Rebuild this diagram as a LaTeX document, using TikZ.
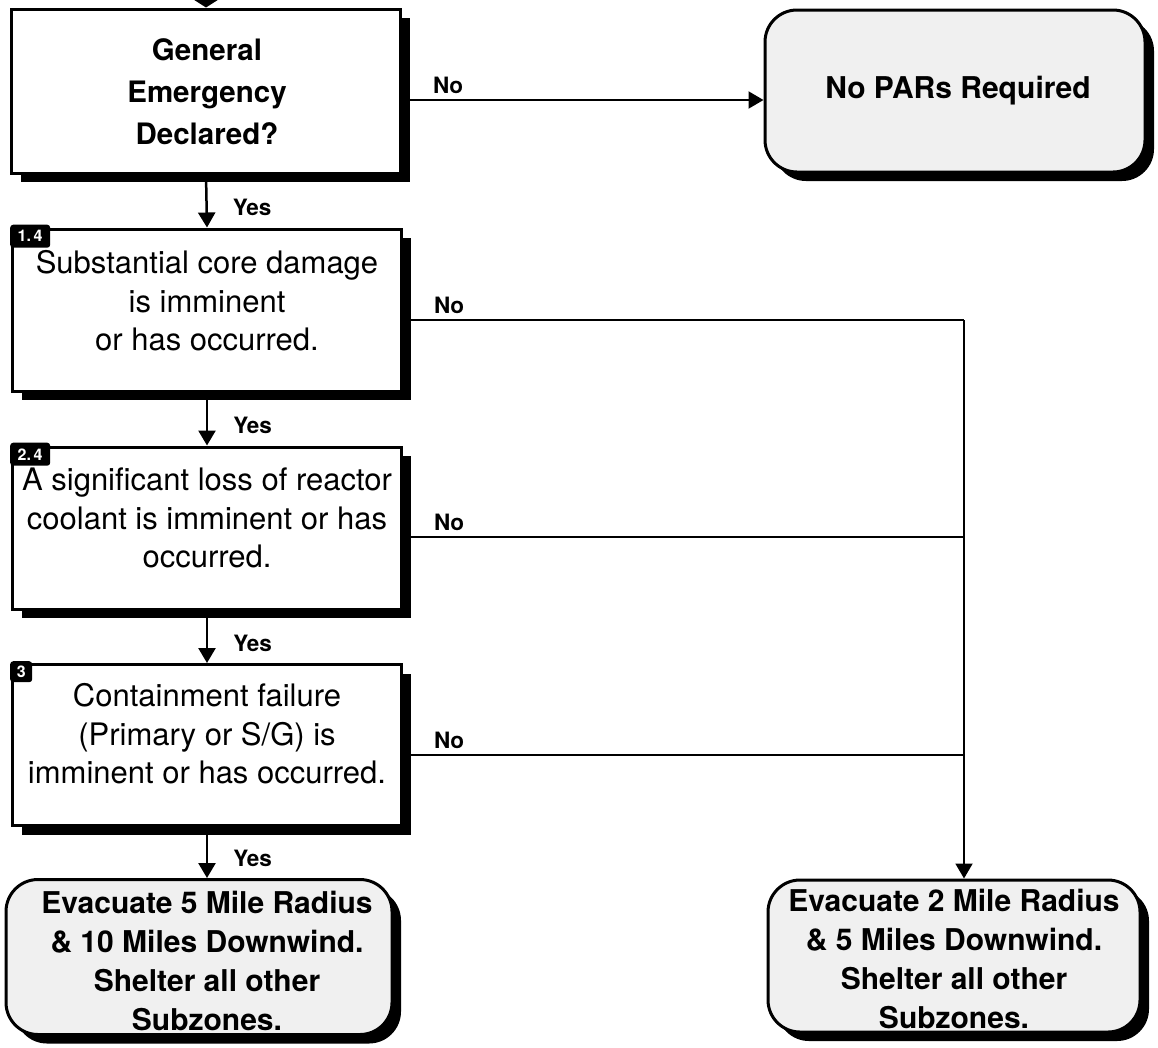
\documentclass[tikz,border=0pt]{standalone}
\usepackage{fontspec}
\setmainfont{TeX Gyre Heros}
\usetikzlibrary{arrows.meta,shadows,calc}
\begin{document}
\begin{tikzpicture}[x=1pt,y=-1pt,
  shadowed/.style={drop shadow={shadow xshift=9pt,shadow yshift=-9pt,fill=black,opacity=1}},
  qbox/.style={draw=black,line width=3pt,fill=white,inner sep=0pt,
    minimum width=389pt,minimum height=162pt,shadowed},
  rbox/.style={draw=black,line width=3pt,fill=black!6,inner sep=0pt,
    rounded corners=32pt,shadowed},
  boldtxt/.style={align=center,inner sep=0pt,font=\bfseries\fontsize{29.5}{42}\selectfont},
  regtxt/.style={align=center,inner sep=0pt,font=\fontsize{31}{38.5}\selectfont},
  restxt/.style={align=center,inner sep=0pt,font=\bfseries\fontsize{30}{40}\selectfont},
  tagbox/.style={fill=black,text=white,rounded corners=3pt,inner sep=0pt,
    minimum width=40pt,minimum height=23pt,
    font=\bfseries\fontsize{16}{18}\selectfont,anchor=north west},
  arr/.style={line width=2.5pt,-{Triangle[length=15pt,width=17pt]}},
  conn/.style={line width=2pt},
  lab/.style={inner sep=0pt,font=\bfseries\fontsize{22.5}{26}\selectfont}
]
\useasboundingbox (0,0) rectangle (1158,1047);

% decision boxes
\node[qbox,minimum height=164pt] (b1) at (206,91) {};
\node[boldtxt] (t1) at (207,92) {General\\Emergency\\Declared?};

\node[qbox] (b2) at (207,310) {};
\node[regtxt] (t2) at (207,301) {Substantial core damage\\is imminent\\or has occurred.};
\node[tagbox] (g2) at ($(b2.north west)+(-1,-3)$) {1.\,4};

\node[qbox] (b3) at (207,528) {};
\node[regtxt] (t3) at (207,518) {A significant loss of reactor\\coolant is imminent or has\\occurred.};
\node[tagbox] (g3) at ($(b3.north west)+(-1,-3)$) {2.\,4};

\node[qbox,minimum height=161pt] (b4) at (207,745) {};
\node[regtxt] (t4) at (207,734) {Containment failure\\(Primary or S/G) is\\imminent or has occurred.};
\node[tagbox,minimum width=22pt,minimum height=21pt] (g4) at ($(b4.north west)+(-1,-2)$) {3};

% result boxes
\node[rbox,minimum width=380pt,minimum height=162pt] (b7) at (955,91) {};
\node[restxt] (t7) at (958,91) {No PARs Required};

\node[rbox,minimum width=386pt,minimum height=155pt] (b5) at (199,957) {};
\node[restxt,font=\bfseries\fontsize{30}{39}\selectfont] (t5) at (207,961) {Evacuate 5 Mile Radius\\\& 10 Miles Downwind.\\Shelter all other\\Subzones.};

\node[rbox,minimum width=372pt,minimum height=152pt] (b6) at (954,956) {};
\node[restxt,font=\bfseries\fontsize{30}{39}\selectfont] (t6) at (954,959) {Evacuate 2 Mile Radius\\\& 5 Miles Downwind.\\Shelter all other\\Subzones.};

% top incoming arrow
\coordinate (top) at (206,-40);
\draw[line width=2.5pt,-{Triangle[length=11pt,width=34pt]}] (top) -- (b1.north);

% yes arrows
\draw[arr] (b1.south) -- (b2.north) node[lab,pos=0.62,anchor=west,xshift=25pt] (y1) {Yes};
\draw[arr] (b2.south) -- (b3.north) node[lab,pos=0.62,anchor=west,xshift=25pt] (y2) {Yes};
\draw[arr] (b3.south) -- (b4.north) node[lab,pos=0.62,anchor=west,xshift=25pt] (y3) {Yes};
\draw[arr] (b4.south) -- (b5.north -| b4.south) node[lab,pos=0.62,anchor=west,xshift=25pt] (y4) {Yes};

% no branches
\coordinate (n1) at ($(b1.east)+(0,9)$);
\draw[arr,line width=2pt] (n1) -- (n1 -| b7.west)
  node[lab,pos=0,anchor=south west,xshift=30pt,yshift=5pt] (l1) {No};

\coordinate (n2) at ($(b2.east)+(0,10)$);
\coordinate (n3) at ($(b3.east)+(0,9)$);
\coordinate (n4) at ($(b4.east)+(0,10)$);
\coordinate (j2) at (964,320);
\coordinate (j3) at (964,537);
\coordinate (j4) at (964,755);

\draw[conn] (n2) -- (j2) node[lab,pos=0,anchor=south west,xshift=30pt,yshift=5pt] (l2) {No};
\draw[conn] (n3) -- (j3) node[lab,pos=0,anchor=south west,xshift=30pt,yshift=5pt] (l3) {No};
\draw[conn] (n4) -- (j4) node[lab,pos=0,anchor=south west,xshift=30pt,yshift=5pt] (l4) {No};
\draw[arr,line width=2pt] (j2) -- (j2 |- b6.north);
\end{tikzpicture}
\end{document}
